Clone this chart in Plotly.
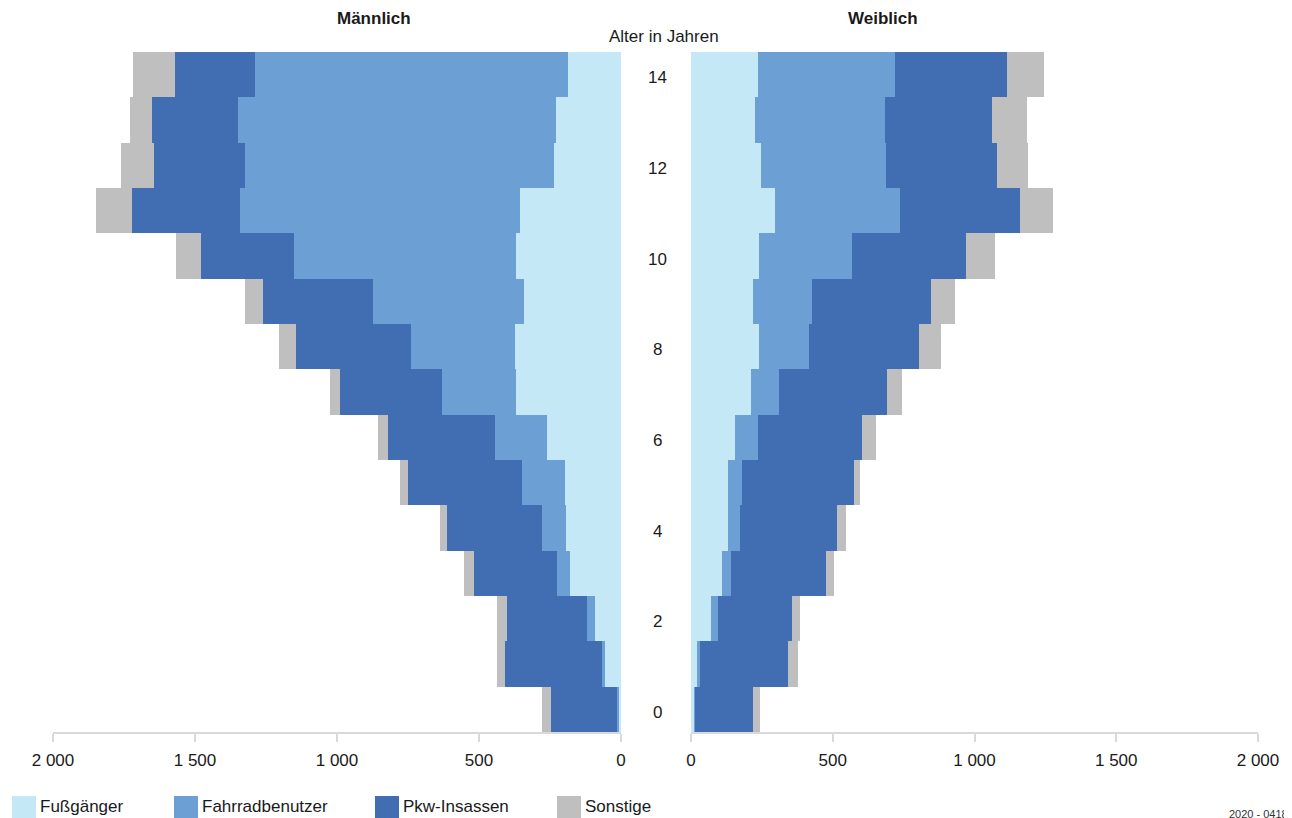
import plotly.graph_objects as go

ages = list(range(0, 15))
categories = ["Fußgänger", "Fahrradbenutzer", "Pkw-Insassen", "Sonstige"]

# Male values by age 0..14
male_fuss = [10, 56, 93, 178, 192, 198, 262, 368, 372, 343, 368, 357, 235, 230, 188]
male_rad = [4, 12, 28, 49, 85, 152, 183, 264, 367, 529, 783, 984, 1088, 1118, 1100]
male_pkw = [234, 339, 279, 290, 335, 399, 374, 357, 404, 388, 327, 381, 322, 302, 282]
male_sonst = [29, 31, 38, 35, 25, 28, 35, 37, 63, 63, 88, 126, 115, 78, 148]

# Female values by age 0..14
fem_fuss = [14, 24, 71, 109, 131, 131, 155, 212, 240, 219, 240, 297, 247, 226, 237]
fem_rad = [1, 7, 25, 32, 41, 49, 82, 98, 176, 208, 328, 440, 441, 458, 482]
fem_pkw = [205, 311, 261, 335, 343, 395, 366, 381, 388, 420, 402, 423, 392, 378, 396]
fem_sonst = [25, 37, 29, 29, 30, 21, 50, 53, 78, 85, 103, 117, 108, 122, 129]

age_labels = [0, 2, 4, 6, 8, 10, 12, 14]
x_ticks = [0, 500, 1000, 1500, 2000]

colors = ["#C5E8F7", "#6CA0D4", "#416DB2", "#BFBFBF"]

male = [male_fuss, male_rad, male_pkw, male_sonst]
female = [fem_fuss, fem_rad, fem_pkw, fem_sonst]

FONT = "Liberation Sans Narrow, Liberation Sans, Arial, sans-serif"

W, H = 1292, 818
OFF = 8  # page body margin


def px(x):
    return (x - OFF) / W


def py(y):
    return 1 - (y - OFF) / H


fig = go.Figure()
for name, col, vals in zip(categories, colors, male):
    fig.add_trace(go.Bar(y=ages, x=vals, orientation="h", name=name,
                         marker=dict(color=col, line=dict(width=0)),
                         xaxis="x", yaxis="y", showlegend=False))
for name, col, vals in zip(categories, colors, female):
    fig.add_trace(go.Bar(y=ages, x=vals, orientation="h", name=name,
                         marker=dict(color=col, line=dict(width=0)),
                         xaxis="x2", yaxis="y2", showlegend=False))

ydom = [py(732), py(52)]

axis_common = dict(
    tickvals=x_ticks, tickformat=",d", showgrid=False, zeroline=False,
    showline=True, linecolor="#D9D9D9", linewidth=2,
    ticks="outside", ticklen=8, tickwidth=2, tickcolor="#D9D9D9",
    ticklabelstandoff=4,
    tickfont=dict(size=17, color="#1a1a1a", family=FONT),
    fixedrange=True, automargin=False,
)

fig.update_layout(
    template="none",
    width=W, height=H,
    margin=dict(l=0, r=0, t=0, b=0, pad=0),
    paper_bgcolor="white", plot_bgcolor="white",
    barmode="stack", bargap=0,
    separators=", ",
    font=dict(family=FONT, size=17, color="#1a1a1a"),
    xaxis=dict(domain=[px(53), px(621)], range=[2000, 0], anchor="y", **axis_common),
    xaxis2=dict(domain=[px(691), px(1258)], range=[0, 2000], anchor="y2", **axis_common),
    yaxis=dict(domain=ydom, range=[-0.5, 14.5], visible=False, anchor="x", automargin=False),
    yaxis2=dict(domain=ydom, range=[-0.5, 14.5], visible=False, anchor="x2", automargin=False),
    showlegend=False,
)

annotations = []
for a in age_labels:
    annotations.append(dict(x=px(657), xref="paper", y=a, yref="y2", text=str(a),
                            showarrow=False, xanchor="center", yanchor="middle", yshift=-3,
                            font=dict(size=17, color="#1a1a1a", family=FONT)))
annotations += [
    dict(x=px(374), y=py(18), xref="paper", yref="paper", text="<b>Männlich</b>",
         showarrow=False, xanchor="center", yanchor="middle", font=dict(size=17)),
    dict(x=px(883), y=py(18), xref="paper", yref="paper", text="<b>Weiblich</b>",
         showarrow=False, xanchor="center", yanchor="middle", font=dict(size=17)),
    dict(x=px(664), y=py(36), xref="paper", yref="paper", text="Alter in Jahren",
         showarrow=False, xanchor="center", yanchor="middle", font=dict(size=17)),
    dict(x=px(1227), y=py(814), xref="paper", yref="paper", text="2020 - 0418",
         showarrow=False, xanchor="left", yanchor="middle", font=dict(size=11, color="#333")),
]

# custom legend
legend_x = [12, 174, 375, 557]
shapes = []
for lx, name, col in zip(legend_x, categories, colors):
    shapes.append(dict(type="rect", xref="paper", yref="paper",
                       x0=px(lx), x1=px(lx + 24), y0=py(820), y1=py(796),
                       fillcolor=col, line=dict(width=0)))
    annotations.append(dict(x=px(lx + 26), y=py(806), xref="paper", yref="paper",
                            text=name, showarrow=False, xanchor="left", yanchor="middle",
                            font=dict(size=17, color="#1a1a1a")))

fig.update_layout(annotations=annotations, shapes=shapes)

fig.write_html("out.html")
